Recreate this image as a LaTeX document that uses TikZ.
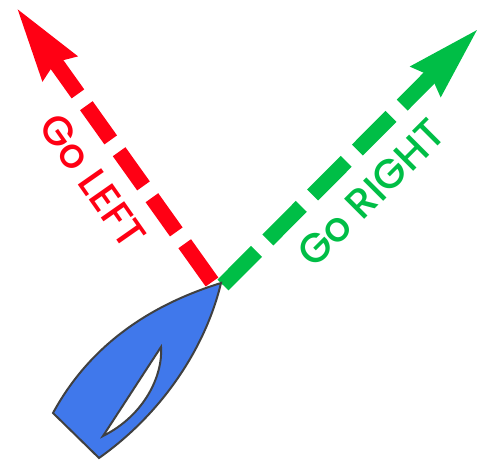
\documentclass[tikz,border=0pt]{standalone}
\usepackage{fontspec}
\setmainfont{Poppins}[UprightFont=* Medium]
\usetikzlibrary{arrows.meta}
\definecolor{goleft}{RGB}{255,0,20}
\definecolor{goright}{RGB}{0,190,70}
\definecolor{hull}{RGB}{64,120,235}
\begin{document}
\begin{tikzpicture}[x=0.2mm,y=-0.2mm]
\tikzstyle{leftarrow}=[draw=goleft,line width=3.1mm,-{Stealth[length=14.6mm,width=7.8mm,inset=1.1mm]}]
\tikzstyle{rightarrow}=[draw=goright,line width=3.1mm,-{Stealth[length=14.6mm,width=7.8mm,inset=1.1mm]}]
\tikzstyle{lbl}=[font=\fontsize{8.2mm}{10mm}\selectfont,inner sep=0pt]
\useasboundingbox (0,0) rectangle (488,461);
\coordinate (Rs) at (212,282); \coordinate (Rt) at (16,7);
\coordinate (Gs) at (223,285); \coordinate (Gt) at (479,28);
\draw[leftarrow,dash pattern=on 9.4mm off 2.9mm on 8.4mm off 2.9mm on 8.4mm off 2.9mm on 8.4mm off 2.9mm on 60mm off 0mm] (Rs) -- (Rt);
\draw[rightarrow,dash pattern=on 9.5mm off 3.2mm] (Gs) -- (Gt);
\node[lbl,text=goleft,rotate=-55] (L) at (93,181) {Go LEFT};
\node[lbl,text=goright,rotate=45] (R) at (371,193) {Go RIGHT};
\fill[hull,draw=black!75,line width=0.4mm,even odd rule] (221,283) .. controls (150,305) and (90,345) .. (53,413) -- (99,458) .. controls (160,415) and (205,350) .. (221,283) -- cycle
(161,347) .. controls (142,376) and (122,407) .. (103,436) .. controls (145,415) and (163,375) .. (161,347) -- cycle;
\end{tikzpicture}
\end{document}
